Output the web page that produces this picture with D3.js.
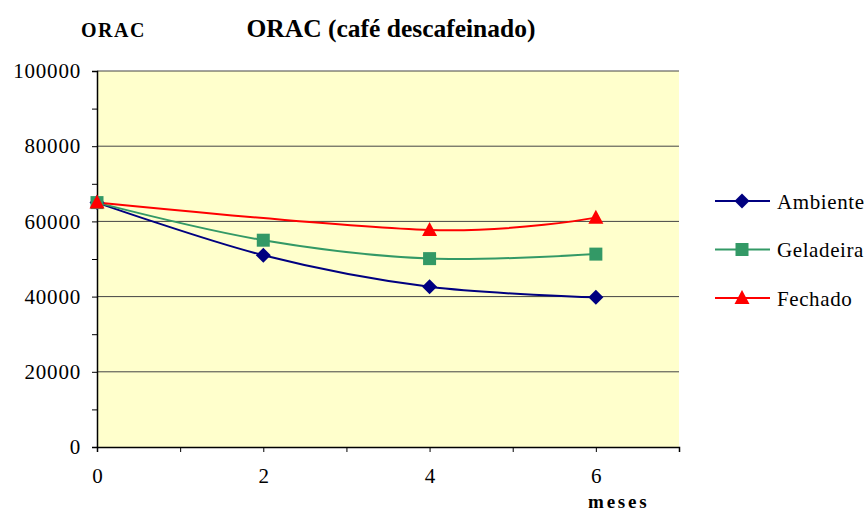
<!DOCTYPE html>
<html>
<head>
<meta charset="utf-8">
<script src="https://cdn.jsdelivr.net/npm/d3@7"></script>
<style>
  body { margin: 0; background: #fff; }
  svg text { font-family: "Liberation Serif", "Tinos", "DejaVu Serif", serif; fill: #000; }
</style>
</head>
<body>
<svg id="chart" width="868" height="513"></svg>
<script>
// months on x axis
const meses = [0, 2, 4, 6];
const ambiente = [65000, 51000, 42600, 39800];
const geladeira = [65000, 55000, 50100, 51300];
const fechado = [65000, null, 57700, 61000]; // no value at month 2
const yTicks = [0, 20000, 40000, 60000, 80000, 100000];
const xTicks = [0, 2, 4, 6];

const seriesList = [
  {name: 'Ambiente', values: ambiente, color: '#000080', shape: 'diamond'},
  {name: 'Geladeira', values: geladeira, color: '#339966', shape: 'square'},
  {name: 'Fechado', values: fechado, color: '#ff0000', shape: 'triangle'}
];

// marker paths, centred on 0,0
function marker(shape) {
  if (shape === 'diamond') return 'M0,-7.5L7.5,0L0,7.5L-7.5,0Z';
  if (shape === 'square') return 'M-6.5,-6.5H6.5V6.5H-6.5Z';
  return 'M0,-8L7.5,6L-7.5,6Z';
}

const svg = d3.select('#chart');
const plot = {left: 97, right: 679, top: 71, bottom: 447};

const x = d3.scaleLinear().domain([0, 7]).range([plot.left, plot.right]);
const y = d3.scaleLinear().domain([0, 100000]).range([plot.bottom, plot.top]);

// plot background
svg.append('rect')
    .attr('x', plot.left).attr('y', plot.top)
    .attr('width', plot.right - plot.left).attr('height', plot.bottom - plot.top)
    .attr('fill', '#ffffcc');

// gridlines
svg.append('g')
    .selectAll('line')
    .data(yTicks.filter(d => d > 0))
    .join('line')
    .attr('x1', plot.left).attr('x2', plot.right)
    .attr('y1', d => y(d)).attr('y2', d => y(d))
    .attr('stroke', '#444').attr('stroke-width', 1);

// y axis (major + minor ticks)
const yAxis = svg.append('g')
    .attr('transform', `translate(${plot.left},0)`)
    .call(d3.axisLeft(y).tickValues(d3.range(0, 100001, 10000)).tickSize(5)
        .tickFormat(d => yTicks.includes(d) ? d : ''));
yAxis.attr('font-family', null);
yAxis.select('.domain').attr('stroke', '#000').attr('stroke-width', 1.5);
yAxis.selectAll('.tick text')
    .attr('x', -16)
    .style('font-size', '21px')
    .style('letter-spacing', '0.8px');

// x axis
const xAxis = svg.append('g')
    .attr('transform', `translate(0,${plot.bottom})`)
    .call(d3.axisBottom(x).tickValues(d3.range(0, 8)).tickSize(5)
        .tickFormat(d => xTicks.includes(d) ? d : ''));
xAxis.attr('font-family', null);
xAxis.select('.domain').attr('stroke', '#000').attr('stroke-width', 1.5);
xAxis.selectAll('.tick text')
    .attr('y', 21)
    .style('font-size', '21px');

// lines
const line = d3.line()
    .x(d => x(d.m))
    .y(d => y(d.v))
    .curve(d3.curveCardinal.tension(0));

seriesList.forEach(s => {
  const pts = meses.map((m, i) => ({m: m, v: s.values[i]})).filter(d => d.v !== null);
  svg.append('path')
      .datum(pts)
      .attr('d', line)
      .attr('fill', 'none')
      .attr('stroke', s.color)
      .attr('stroke-width', 2);
});

seriesList.forEach(s => {
  const pts = meses.map((m, i) => ({m: m, v: s.values[i]})).filter(d => d.v !== null);
  svg.append('g')
      .selectAll('path')
      .data(pts)
      .join('path')
      .attr('transform', d => `translate(${x(d.m)},${y(d.v)})`)
      .attr('d', marker(s.shape))
      .attr('fill', s.color);
});

// titles
svg.append('text')
    .attr('x', 391).attr('y', 36.5)
    .attr('text-anchor', 'middle')
    .style('font-size', '25.5px').style('font-weight', 'bold')
    .text('ORAC (café descafeinado)');

svg.append('text')
    .attr('x', 81).attr('y', 37)
    .style('font-size', '20px').style('font-weight', 'bold')
    .style('letter-spacing', '1.5px')
    .text('ORAC');

svg.append('text')
    .attr('x', 588).attr('y', 508)
    .style('font-size', '19px').style('font-weight', 'bold')
    .style('letter-spacing', '2.8px')
    .text('meses');

// legend
const legend = svg.append('g');
seriesList.forEach((s, i) => {
  const ly = 201 + i * 48.5;
  legend.append('line')
      .attr('x1', 715).attr('x2', 770)
      .attr('y1', ly).attr('y2', ly)
      .attr('stroke', s.color).attr('stroke-width', 2);
  legend.append('path')
      .attr('transform', `translate(742,${ly})`)
      .attr('d', marker(s.shape))
      .attr('fill', s.color);
  legend.append('text')
      .attr('x', 777).attr('y', ly + 7.5)
      .style('font-size', '21px')
      .style('letter-spacing', '0.6px')
      .text(s.name);
});
</script>
</body>
</html>
